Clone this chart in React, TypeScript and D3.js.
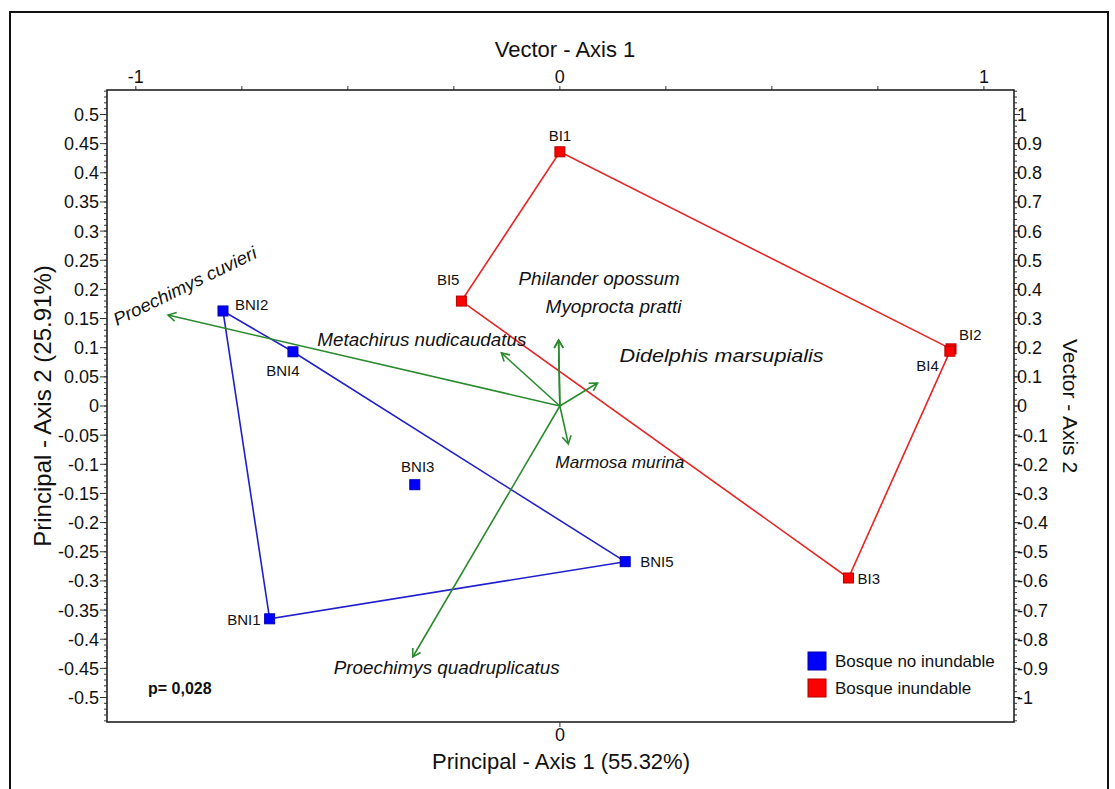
import React from 'react';
import * as d3 from 'd3';

// ---------- DATA ----------
const sites = ['BI1', 'BI2', 'BI3', 'BI4', 'BI5', 'BNI1', 'BNI2', 'BNI3', 'BNI4', 'BNI5'];
const siteGroup = [
  'Bosque inundable', 'Bosque inundable', 'Bosque inundable', 'Bosque inundable', 'Bosque inundable',
  'Bosque no inundable', 'Bosque no inundable', 'Bosque no inundable', 'Bosque no inundable', 'Bosque no inundable',
];
const siteAxis1 = [0.0, 0.671, 0.495, 0.669, -0.169, -0.498, -0.578, -0.249, -0.458, 0.112];
const siteAxis2 = [0.436, 0.098, -0.295, 0.094, 0.18, -0.365, 0.163, -0.135, 0.093, -0.267];

const species = [
  'Proechimys cuvieri',
  'Metachirus nudicaudatus',
  'Philander opossum',
  'Myoprocta pratti',
  'Didelphis marsupialis',
  'Marmosa murina',
  'Proechimys quadruplicatus',
];
const vectorAxis1 = [-0.924, -0.138, -0.003, -0.003, 0.089, 0.02, -0.347];
const vectorAxis2 = [0.312, 0.182, 0.226, 0.226, 0.079, -0.13, -0.861];

const groups = ['Bosque no inundable', 'Bosque inundable'];
const pValueText = 'p= 0,028';

const leftTickValues = d3.range(-50, 51, 5).map((v) => v / 100);
const rightTickValues = d3.range(-10, 11, 1).map((v) => v / 10);
const topTickValues = d3.range(-4, 5, 1).map((v) => v / 4);
const topTickLabels = [-1, 0, 1];
const bottomTickLabels = [0];

// ---------- LAYOUT / STYLE ----------
const W = 1115;
const H = 789;
const L = 107, R = 1014, T = 90, B = 722;
const FONT = '"Liberation Sans", Arial, Helvetica, sans-serif';

const groupFill: Record<string, string> = { 'Bosque no inundable': '#0000ff', 'Bosque inundable': '#ff0000' };
const groupStroke: Record<string, string> = { 'Bosque no inundable': '#0000b0', 'Bosque inundable': '#b00000' };
const groupLine: Record<string, string> = { 'Bosque no inundable': '#2020cc', 'Bosque inundable': '#e82424' };
const GREEN = '#2a8a2e';

// label placement (pixel offsets from the marker)
const siteLabelPos: Record<string, [number, number, string]> = {
  BI1: [0, -11, 'middle'],
  BI2: [8, -9, 'start'],
  BI3: [9, 6, 'start'],
  BI4: [-11, 20, 'end'],
  BI5: [-2, -16, 'end'],
  BNI1: [-9, 6, 'end'],
  BNI2: [12, -1, 'start'],
  BNI3: [3, -13, 'middle'],
  BNI4: [-10, 24, 'middle'],
  BNI5: [15, 5, 'start'],
};
// species label placement: dx, dy from arrow tip, anchor, rotation, font size, text length
const speciesLabelPos: Record<string, [number, number, string, number, number, number]> = {
  'Proechimys cuvieri': [-51, 11, 'start', -26, 18, 157],
  'Metachirus nudicaudatus': [25, -7, 'end', 0, 18, 209],
  'Philander opossum': [-40, -55, 'start', 0, 18, 161],
  'Myoprocta pratti': [-13, -27, 'start', 0, 18, 136],
  'Didelphis marsupialis': [22, -21, 'start', 0, 18, 204],
  'Marmosa murina': [-13, 24, 'start', 0, 17, 129],
  'Proechimys quadruplicatus': [-79, 17, 'start', 0, 18, 226],
};

const fmt = (v: number) => (Math.abs(v) < 1e-9 ? '0' : String(+v.toFixed(2)));

export default function App() {
  const xP = d3.scaleLinear().domain([-0.777, 0.779]).range([L, R]);
  const yP = d3.scaleLinear().domain([-0.542, 0.542]).range([B, T]);
  const xV = d3.scaleLinear().domain([-1.068, 1.071]).range([L, R]);
  const yV = d3.scaleLinear().domain([-1.084, 1.084]).range([B, T]);

  const pts = sites.map((s, i) => ({
    name: s,
    group: siteGroup[i],
    x: xP(siteAxis1[i]),
    y: yP(siteAxis2[i]),
  }));

  const hulls = groups.map((g) => {
    const gp = pts.filter((p) => p.group === g).map((p) => [p.x, p.y] as [number, number]);
    const hull = d3.polygonHull(gp) || gp;
    return { group: g, path: d3.line()(hull.concat([hull[0]])) as string };
  });

  const ox = xV(0), oy = yV(0);
  const arrows = species.map((s, i) => {
    const tx = xV(vectorAxis1[i]);
    const ty = yV(vectorAxis2[i]);
    const ang = Math.atan2(ty - oy, tx - ox);
    const hl = 9, ha = Math.PI / 6;
    const h1 = [tx - hl * Math.cos(ang - ha), ty - hl * Math.sin(ang - ha)];
    const h2 = [tx - hl * Math.cos(ang + ha), ty - hl * Math.sin(ang + ha)];
    return { name: s, tx, ty, head: `M${h1[0]},${h1[1]}L${tx},${ty}L${h2[0]},${h2[1]}` };
  });

  const leftMinor = d3.range(-54, 55, 1).map((v) => v / 100);
  const rightMinor = d3.range(-54, 55, 1).map((v) => v / 50);

  return (
    <svg width={W} height={H} style={{ position: 'absolute', left: 0, top: 0, background: '#fff' }} fontFamily={FONT}>
      <rect x={0} y={0} width={W} height={H} fill="#fff" />
      {/* outer frame */}
      <rect x={10} y={12} width={1098} height={820} fill="none" stroke="#111" strokeWidth={2} />

      {/* left axis */}
      {leftMinor.map((v) => (
        <line key={'lm' + v} x1={L - 3} x2={L} y1={yP(v)} y2={yP(v)} stroke="#333" strokeWidth={1} />
      ))}
      {leftTickValues.map((v) => (
        <g key={'lt' + v}>
          <line x1={L - 7} x2={L} y1={yP(v)} y2={yP(v)} stroke="#333" strokeWidth={1} />
          <text x={L - 8} y={yP(v)} dy="0.36em" textAnchor="end" fontSize={18} fill="#111">
            {fmt(v)}
          </text>
        </g>
      ))}

      {/* right axis */}
      {rightMinor.map((v) => (
        <line key={'rm' + v} x1={R} x2={R + 3} y1={yV(v)} y2={yV(v)} stroke="#333" strokeWidth={1} />
      ))}
      {rightTickValues.map((v) => (
        <g key={'rt' + v}>
          <line x1={R} x2={R + 6} y1={yV(v)} y2={yV(v)} stroke="#333" strokeWidth={1} />
          <text x={R + 3} y={yV(v)} dy="0.36em" textAnchor="start" fontSize={18} fill="#111">
            {fmt(v)}
          </text>
        </g>
      ))}

      {/* top axis */}
      {topTickValues.map((v) => (
        <line key={'tt' + v} x1={xV(v)} x2={xV(v)} y1={T - 4} y2={T} stroke="#333" strokeWidth={1} />
      ))}
      {topTickLabels.map((v) => (
        <text key={'tl' + v} x={xV(v)} y={T - 7} textAnchor="middle" fontSize={18} fill="#111">
          {fmt(v)}
        </text>
      ))}

      {/* bottom axis */}
      {bottomTickLabels.map((v) => (
        <g key={'bt' + v}>
          <line x1={xP(v)} x2={xP(v)} y1={B} y2={B + 5} stroke="#333" strokeWidth={1} />
          <text x={xP(v)} y={B + 19} textAnchor="middle" fontSize={18} fill="#111">
            {fmt(v)}
          </text>
        </g>
      ))}

      {/* titles */}
      <text x={565} y={57} textAnchor="middle" fontSize={22} fill="#111">Vector - Axis 1</text>
      <text x={561} y={769} textAnchor="middle" fontSize={22} fill="#111">Principal - Axis 1 (55.32%)</text>
      <text transform={`translate(51,${(T + B) / 2}) rotate(-90)`} textAnchor="middle" fontSize={24} fill="#111">
        Principal - Axis 2 (25.91%)
      </text>
      <text transform={`translate(1063,${(T + B) / 2}) rotate(90)`} textAnchor="middle" fontSize={21} fill="#111">
        Vector - Axis 2
      </text>

      {/* hulls */}
      {hulls.map((h) => (
        <path key={h.group} d={h.path} fill="none" stroke={groupLine[h.group]} strokeWidth={1.6} />
      ))}

      {/* arrows */}
      {arrows.map((a) => (
        <g key={a.name}>
          <line x1={ox} y1={oy} x2={a.tx} y2={a.ty} stroke={GREEN} strokeWidth={1.6} />
          <path d={a.head} fill="none" stroke={GREEN} strokeWidth={1.6} />
        </g>
      ))}

      {/* species labels */}
      {arrows.map((a) => {
        const [dx, dy, anchor, rot, fs, len] = speciesLabelPos[a.name];
        const x = a.tx + dx, y = a.ty + dy;
        return (
          <text
            key={'sl' + a.name}
            x={x}
            y={y}
            transform={rot ? `rotate(${rot},${x},${y})` : undefined}
            textAnchor={anchor as any}
            fontSize={fs}
            fontStyle="italic"
            textLength={len}
            lengthAdjust="spacingAndGlyphs"
            fill="#111"
          >
            {a.name}
          </text>
        );
      })}

      {/* site markers */}
      {pts.map((p) => (
        <rect
          key={'pt' + p.name}
          x={p.x - 5}
          y={p.y - 5}
          width={10}
          height={10}
          fill={groupFill[p.group]}
          stroke={groupStroke[p.group]}
          strokeWidth={1}
        />
      ))}
      {pts.map((p) => {
        const [dx, dy, anchor] = siteLabelPos[p.name];
        return (
          <text key={'pl' + p.name} x={p.x + dx} y={p.y + dy} textAnchor={anchor as any} fontSize={15} fill="#111">
            {p.name}
          </text>
        );
      })}

      {/* p value */}
      <text x={148} y={694} fontSize={16} fontWeight="bold" fill="#111">{pValueText}</text>

      {/* legend */}
      {groups.map((g, i) => (
        <g key={'lg' + g}>
          <rect x={808} y={652 + i * 27} width={18} height={18} fill={groupFill[g]} stroke={groupStroke[g]} strokeWidth={1} />
          <text x={835} y={667 + i * 27} fontSize={17} fill="#111">{g}</text>
        </g>
      ))}

      {/* plot frame */}
      <rect x={L} y={T} width={R - L} height={B - T} fill="none" stroke="#222" strokeWidth={1.6} />
    </svg>
  );
}
